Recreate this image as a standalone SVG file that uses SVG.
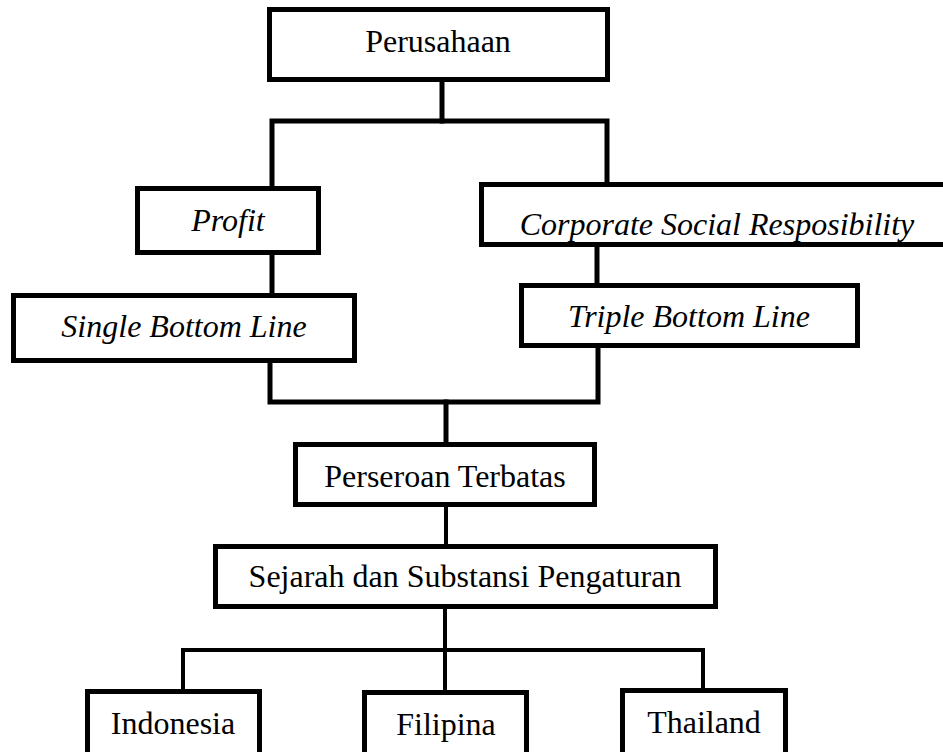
<svg xmlns="http://www.w3.org/2000/svg" width="943" height="752" viewBox="0 0 943 752">
<style>
.box{fill:#fff;stroke:#000;stroke-width:5}
.lbl{font-family:"Liberation Serif","Times New Roman",serif;font-size:32px;fill:#000;text-anchor:middle}
.it{font-style:italic}
.con{fill:none;stroke:#000;stroke-width:5;stroke-linecap:square;stroke-linejoin:miter}
.thin{stroke-width:4}
</style>
<rect width="943" height="752" fill="#fff"/>
<g id="connectors">
<path class="con" d="M442 82 V121"/>
<path class="con" d="M272 186 V121 H607 V182"/>
<path class="con" d="M272 255 V293"/>
<path class="con" d="M597 247 V283"/>
<path class="con" d="M270 363 V402 H598 V348"/>
<path class="con" d="M446 402 V442"/>
<path class="con thin" d="M446 507 V544"/>
<path class="con thin" d="M445 609 V690"/>
<path class="con thin" d="M183 689 V650 H703 V688"/>
</g>
<g id="perusahaan"><rect class="box" x="269.5" y="9.5" width="338" height="70"/><text class="lbl" x="438" y="52">Perusahaan</text></g>
<g id="profit"><rect class="box" x="137.5" y="188.5" width="181" height="64"/><text class="lbl it" x="228" y="231">Profit</text></g>
<g id="csr"><rect class="box" x="481.5" y="184.5" width="500" height="60"/><text class="lbl it" x="717" y="235">Corporate Social Resposibility</text></g>
<g id="single"><rect class="box" x="13.5" y="295.5" width="341" height="65"/><text class="lbl it" x="184" y="337">Single Bottom Line</text></g>
<g id="triple"><rect class="box" x="521.5" y="285.5" width="336" height="60"/><text class="lbl it" x="689" y="327">Triple Bottom Line</text></g>
<g id="perseroan"><rect class="box" x="295.5" y="444.5" width="299" height="60"/><text class="lbl" x="445" y="487">Perseroan Terbatas</text></g>
<g id="sejarah"><rect class="box" x="215.5" y="546.5" width="500" height="60"/><text class="lbl" x="465" y="587">Sejarah dan Substansi Pengaturan</text></g>
<g id="indonesia"><rect class="box" x="87.5" y="691.5" width="172" height="80"/><text class="lbl" x="173" y="734">Indonesia</text></g>
<g id="filipina"><rect class="box" x="364.5" y="692.5" width="162" height="80"/><text class="lbl" x="446" y="735">Filipina</text></g>
<g id="thailand"><rect class="box" x="622.5" y="690.5" width="163" height="80"/><text class="lbl" x="704" y="733">Thailand</text></g>
</svg>
